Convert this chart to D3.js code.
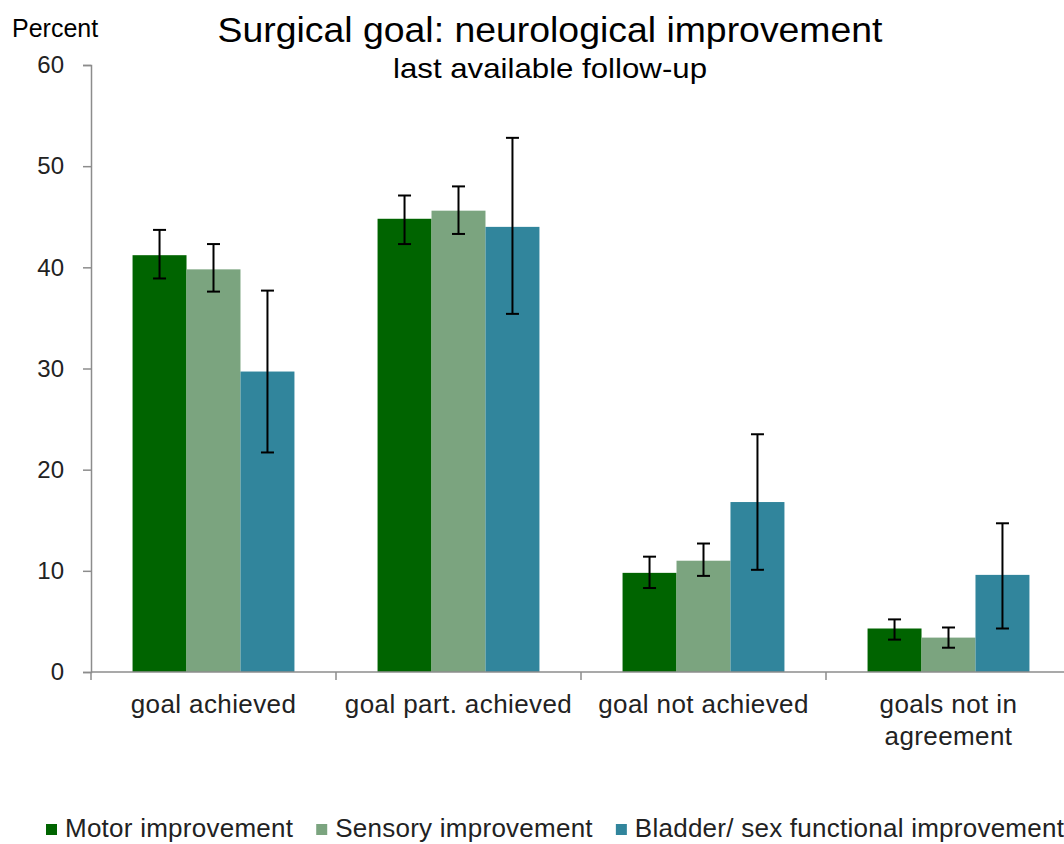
<!DOCTYPE html>
<html>
<head>
<meta charset="utf-8">
<script src="https://cdn.jsdelivr.net/npm/d3@7"></script>
<style>
  html, body { margin: 0; padding: 0; background: #fff; }
  svg { display: block; font-family: "Liberation Sans", Arial, sans-serif; }
</style>
</head>
<body>
<svg id="chart" width="1064" height="844"></svg>
<script>
// Outcome categories on the x axis
const categories = ["goal achieved", "goal part. achieved", "goal not achieved", "goals not in agreement"];

// Series names (legend order)
const seriesNames = ["Motor improvement", "Sensory improvement", "Bladder/ sex functional improvement"];

// Percent values per series, one per category
const motor   = [41.2, 44.8, 9.8, 4.3];
const sensory = [39.8, 45.6, 11.0, 3.4];
const bladder = [29.7, 44.0, 16.8, 9.6];

// Error bar bounds (lower / upper) per series
const motorLow    = [38.9, 42.3, 8.3, 3.2];
const motorHigh   = [43.7, 47.1, 11.4, 5.2];
const sensoryLow  = [37.6, 43.3, 9.5, 2.4];
const sensoryHigh = [42.3, 48.0, 12.7, 4.4];
const bladderLow  = [21.7, 35.4, 10.1, 4.3];
const bladderHigh = [37.7, 52.8, 23.5, 14.7];

// Y axis ticks
const yTicks = [0, 10, 20, 30, 40, 50, 60];

const colors = ["#006400", "#7ba47f", "#31859c"];

const seriesValues = [motor, sensory, bladder];
const seriesLow = [motorLow, sensoryLow, bladderLow];
const seriesHigh = [motorHigh, sensoryHigh, bladderHigh];

const rows = [];
categories.forEach((c, ci) => {
  seriesNames.forEach((s, si) => {
    rows.push({ cat: c, series: s, si, value: seriesValues[si][ci], low: seriesLow[si][ci], high: seriesHigh[si][ci] });
  });
});

const svg = d3.select("#chart");

const x0 = d3.scaleBand().domain(categories).range([91, 1071]).paddingInner(0).paddingOuter(0);
const x1 = d3.scaleBand().domain(seriesNames).range([0, x0.bandwidth()]).paddingInner(0).paddingOuter(0.77);
const y = d3.scaleLinear().domain([0, 60]).range([672, 65]);

// Title block
svg.append("text")
  .attr("x", 550).attr("y", 42)
  .attr("text-anchor", "middle")
  .attr("font-size", 35)
  .attr("fill", "#000")
  .attr("textLength", 665).attr("lengthAdjust", "spacingAndGlyphs")
  .text("Surgical goal: neurological improvement");

svg.append("text")
  .attr("x", 550).attr("y", 78)
  .attr("text-anchor", "middle")
  .attr("font-size", 28)
  .attr("fill", "#000")
  .attr("textLength", 314).attr("lengthAdjust", "spacingAndGlyphs")
  .text("last available follow-up");

svg.append("text")
  .attr("x", 12).attr("y", 37)
  .attr("font-size", 25)
  .attr("fill", "#000")
  .text("Percent");

// Bars
svg.append("g").selectAll("rect")
  .data(rows)
  .join("rect")
  .attr("x", d => x0(d.cat) + x1(d.series))
  .attr("width", x1.bandwidth())
  .attr("y", d => y(d.value))
  .attr("height", d => y(0) - y(d.value))
  .attr("fill", d => colors[d.si]);

// Error bars
const capHalf = 6.5;
const eb = svg.append("g").attr("stroke", "#000").attr("stroke-width", 2);
rows.forEach(d => {
  const cx = x0(d.cat) + x1(d.series) + x1.bandwidth() / 2;
  eb.append("line").attr("x1", cx).attr("x2", cx).attr("y1", y(d.high)).attr("y2", y(d.low));
  eb.append("line").attr("x1", cx - capHalf).attr("x2", cx + capHalf).attr("y1", y(d.high)).attr("y2", y(d.high));
  eb.append("line").attr("x1", cx - capHalf).attr("x2", cx + capHalf).attr("y1", y(d.low)).attr("y2", y(d.low));
});

// Y axis
const yAxis = svg.append("g")
  .attr("transform", "translate(91,0)")
  .call(d3.axisLeft(y).tickValues(yTicks).tickSize(8).tickPadding(19).tickSizeOuter(8));
yAxis.select(".domain").attr("stroke", "#8c8c8c").attr("stroke-width", 1.5);
yAxis.selectAll(".tick line").attr("stroke", "#8c8c8c").attr("stroke-width", 1.5);
yAxis.selectAll(".tick text").attr("font-size", 24).attr("fill", "#222").attr("font-family", "Liberation Sans, Arial, sans-serif");

// X axis: baseline with tick marks at category boundaries
const xg = svg.append("g");
xg.append("line")
  .attr("x1", 91).attr("x2", 1071).attr("y1", y(0)).attr("y2", y(0))
  .attr("stroke", "#8c8c8c").attr("stroke-width", 1.5);
const boundaries = categories.map(c => x0(c)).concat([x0.range()[1]]);
xg.selectAll("line.bt")
  .data(boundaries)
  .join("line")
  .attr("class", "bt")
  .attr("x1", d => d).attr("x2", d => d)
  .attr("y1", y(0)).attr("y2", y(0) + 8)
  .attr("stroke", "#8c8c8c").attr("stroke-width", 1.5);

// Category labels, wrapped to the band width
const labelMax = x0.bandwidth() - 8;
categories.forEach(c => {
  const cx = x0(c) + x0.bandwidth() / 2;
  const t = xg.append("text")
    .attr("x", cx)
    .attr("y", 713)
    .attr("text-anchor", "middle")
    .attr("font-size", 26)
    .attr("letter-spacing", "0.4px")
    .attr("fill", "#222");
  const words = c.split(" ");
  let line = [];
  let tspan = t.append("tspan").attr("x", cx).attr("dy", 0);
  words.forEach(w => {
    line.push(w);
    tspan.text(line.join(" "));
    if (tspan.node().getComputedTextLength() > labelMax && line.length > 1) {
      line.pop();
      tspan.text(line.join(" "));
      line = [w];
      tspan = t.append("tspan").attr("x", cx).attr("dy", 32).text(w);
    }
  });
});

// Legend
const legend = svg.append("g");
let lx = 46;
seriesNames.forEach((s, i) => {
  legend.append("rect")
    .attr("x", lx).attr("y", 824)
    .attr("width", 11).attr("height", 11)
    .attr("fill", colors[i]);
  const t = legend.append("text")
    .attr("x", lx + 19).attr("y", 837)
    .attr("font-size", 26)
    .attr("letter-spacing", "0.25px")
    .attr("fill", "#222")
    .text(s);
  lx = lx + 19 + t.node().getComputedTextLength() + 23;
});
</script>
</body>
</html>
